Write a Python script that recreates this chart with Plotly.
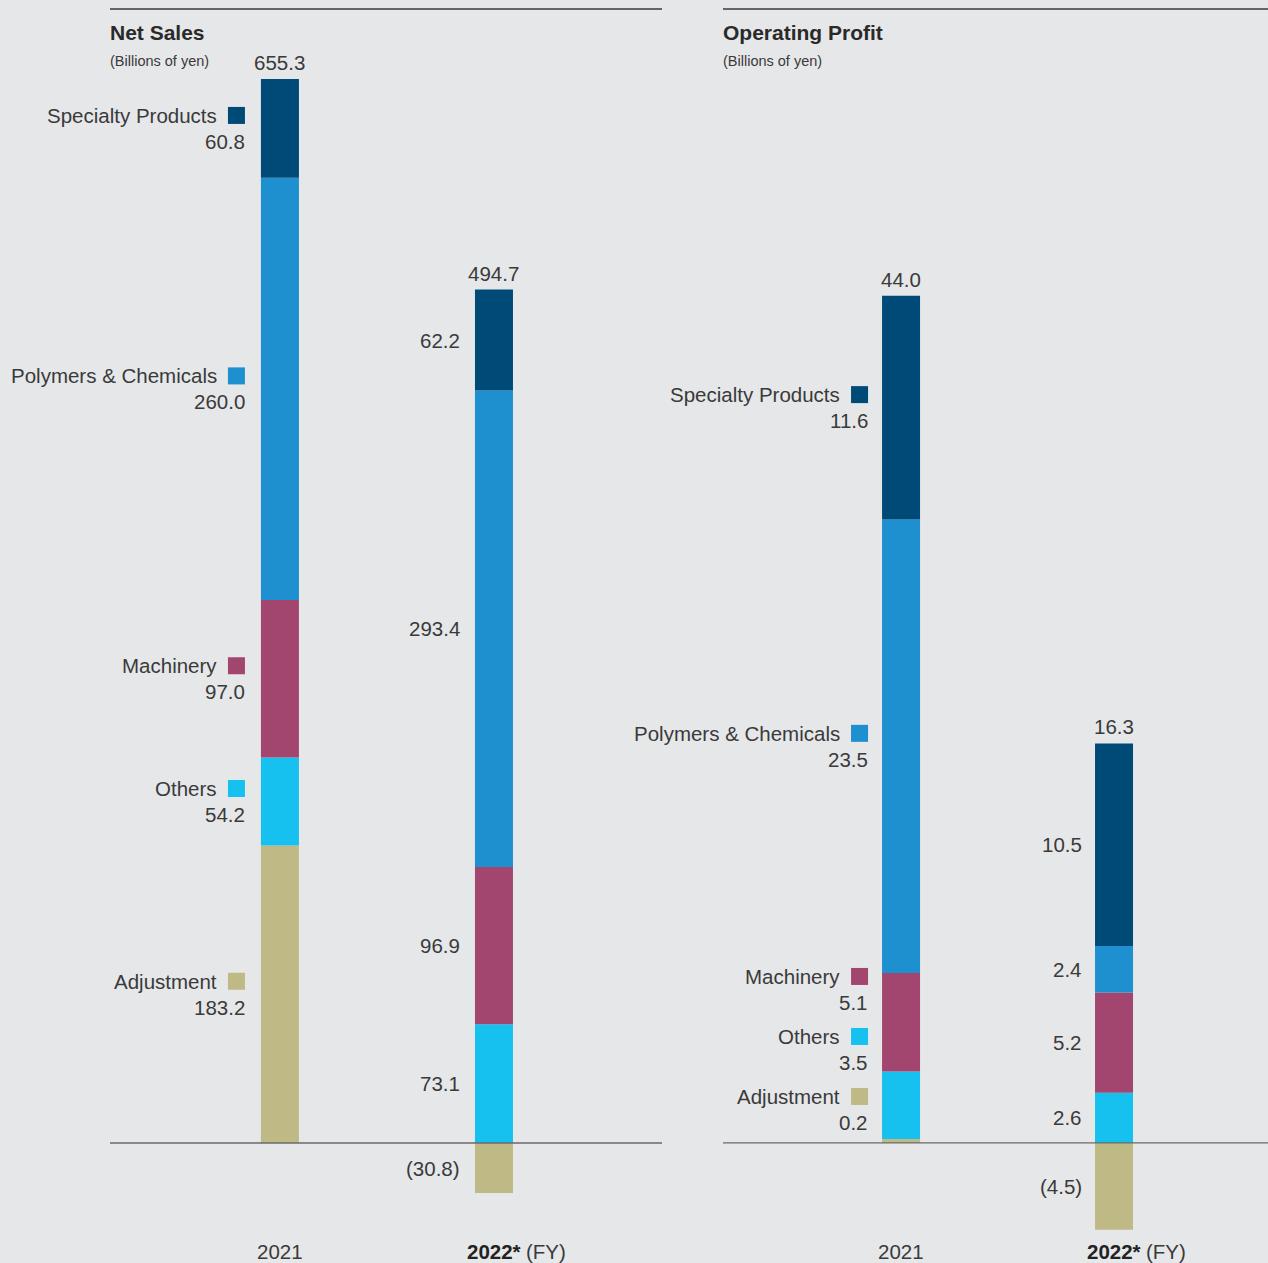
import plotly.graph_objects as go

# ---------------- data ----------------
YEARS = ["2021", "2022*"]
SEGMENTS = ["Adjustment", "Others", "Machinery", "Polymers & Chemicals", "Specialty Products"]
COLORS = ["#bfba85", "#16c1f0", "#a24670", "#1e8fcf", "#004a78"]

NS_ADJUSTMENT = [183.2, -30.8]
NS_OTHERS = [54.2, 73.1]
NS_MACHINERY = [97.0, 96.9]
NS_POLYMERS = [260.0, 293.4]
NS_SPECIALTY = [60.8, 62.2]
NS_TOTAL = [655.3, 494.7]

OP_ADJUSTMENT = [0.2, -4.5]
OP_OTHERS = [3.5, 2.6]
OP_MACHINERY = [5.1, 5.2]
OP_POLYMERS = [23.5, 2.4]
OP_SPECIALTY = [11.6, 10.5]
OP_TOTAL = [44.0, 16.3]

# ---------------- layout constants ----------------
W, H = 1268, 1263
BG = "#e6e7e9"
TXT = "#3a3a3a"
FONT = "Liberation Sans, Arial, sans-serif"
BAR_PX = 38
MIN_H = 33.5   # min label pair height above baseline (px)
GAP = 60       # min spacing between label pairs (px)
YEAR_LABEL_Y = 1251

panels = [
    dict(title="Net Sales", series=[NS_ADJUSTMENT, NS_OTHERS, NS_MACHINERY, NS_POLYMERS, NS_SPECIALTY],
         totals=NS_TOTAL, xa="x", ya="y", xdom=(110, 662), xrange=(-0.794, 1.785), yrange=(-73.9, 703.9),
         name_gap=42, sq=(33, 16), val_gap=15, val2_gap=14),
    dict(title="Operating Profit", series=[OP_ADJUSTMENT, OP_OTHERS, OP_MACHINERY, OP_POLYMERS, OP_SPECIALTY],
         totals=OP_TOTAL, xa="x2", ya="y2", xdom=(723, 1268), xrange=(-0.836, 1.723), yrange=(-6.22, 59.22),
         name_gap=40, sq=(31, 14), val_gap=13, val2_gap=12),
]


def fmt(v):
    return f"({abs(v):.1f})" if v < 0 else f"{v:.1f}"


fig = go.Figure()
annotations = []
shapes = []
xs = list(range(len(YEARS)))

for p in panels:
    px_per_x = (p["xdom"][1] - p["xdom"][0]) / (p["xrange"][1] - p["xrange"][0])
    ppu = H / (p["yrange"][1] - p["yrange"][0])
    bw = BAR_PX / px_per_x
    half = BAR_PX / 2
    for seg, col, vals in zip(SEGMENTS, COLORS, p["series"]):
        fig.add_trace(go.Bar(x=xs, y=vals, width=bw, marker=dict(color=col, line=dict(width=0)),
                             xaxis=p["xa"], yaxis=p["ya"], name=seg, hoverinfo="skip"))

    for i in xs:
        pos, neg = 0.0, 0.0
        centers = []
        for vals in p["series"]:
            v = vals[i]
            if v >= 0:
                centers.append(pos + v / 2)
                pos += v
            else:
                centers.append(neg + v / 2)
                neg += v
        # total label
        annotations.append(dict(x=i, y=pos, xref=p["xa"], yref=p["ya"], text=fmt(p["totals"][i]),
                                showarrow=False, xanchor="center", yanchor="bottom", yshift=3,
                                font=dict(size=20.5, color=TXT, family=FONT)))
        if i == 0:
            # name/value pairs with collision avoidance (pixel heights above baseline)
            prev = None
            for seg, col, vals, c in zip(SEGMENTS, COLORS, p["series"], centers):
                h = max(c * ppu, MIN_H)
                if prev is not None:
                    h = max(h, prev + GAP)
                prev = h
                yv = h / ppu
                annotations.append(dict(x=i, y=yv, xref=p["xa"], yref=p["ya"], text=seg, showarrow=False,
                                        xanchor="right", yanchor="middle", xshift=-(half + p["name_gap"]),
                                        yshift=13, font=dict(size=20.5, color=TXT, family=FONT)))
                annotations.append(dict(x=i, y=yv, xref=p["xa"], yref=p["ya"], text=fmt(vals[i]),
                                        showarrow=False, xanchor="right", yanchor="middle",
                                        xshift=-(half + p["val_gap"]) + 1, yshift=-13,
                                        font=dict(size=20.5, color=TXT, family=FONT)))
                shapes.append(dict(type="rect", xref=p["xa"], yref=p["ya"], xsizemode="pixel",
                                   ysizemode="pixel", xanchor=i, yanchor=yv,
                                   x0=-(half + p["sq"][0]), x1=-(half + p["sq"][1]),
                                   y0=13 - 8.5, y1=13 + 8.5, fillcolor=col, line=dict(width=0)))
        else:
            for vals, c in zip(p["series"], centers):
                annotations.append(dict(x=i, y=c, xref=p["xa"], yref=p["ya"], text=fmt(vals[i]),
                                        showarrow=False, xanchor="right", yanchor="middle",
                                        xshift=-(half + p["val2_gap"]) + 1,
                                        font=dict(size=20.5, color=TXT, family=FONT)))

    # year labels
    yl = 1 - YEAR_LABEL_Y / H
    annotations.append(dict(x=0, y=yl, xref=p["xa"], yref="paper", text=YEARS[0], showarrow=False,
                            xanchor="center", yanchor="middle", font=dict(size=20.5, color=TXT, family=FONT)))
    annotations.append(dict(x=1, y=yl, xref=p["xa"], yref="paper", text=f"<b>{YEARS[1]}</b>",
                            showarrow=False, xanchor="center", yanchor="middle",
                            font=dict(size=20.5, color="#222", family=FONT)))
    annotations.append(dict(x=1, y=yl, xref=p["xa"], yref="paper", text="(FY)", showarrow=False,
                            xanchor="left", yanchor="middle", xshift=30,
                            font=dict(size=20.5, color=TXT, family=FONT)))
    # titles
    annotations.append(dict(x=p["xdom"][0] / W, y=1 - 32 / H, xref="paper", yref="paper",
                            text=f"<b>{p['title']}</b>", showarrow=False, xanchor="left", yanchor="middle",
                            xshift=-2, font=dict(size=21, color="#2a2a2a", family=FONT)))
    annotations.append(dict(x=p["xdom"][0] / W, y=1 - 61 / H, xref="paper", yref="paper",
                            text="(Billions of yen)", showarrow=False, xanchor="left", yanchor="middle",
                            xshift=-2, font=dict(size=14.5, color=TXT, family=FONT)))
    # top rule
    shapes.append(dict(type="line", xref="paper", yref="paper", x0=p["xdom"][0] / W, x1=p["xdom"][1] / W,
                       y0=1 - 9 / H, y1=1 - 9 / H, line=dict(color="#3a3a3a", width=1.5)))
    # baseline
    shapes.append(dict(type="line", xref=f"{p['xa']} domain", yref=p["ya"], x0=0, x1=1, y0=0, y1=0,
                       layer="above", line=dict(color="#6a6a6a", width=1.3)))

axis_off = dict(showgrid=False, zeroline=False, showticklabels=False, ticks="", showline=False, fixedrange=True)
fig.update_layout(
    width=W, height=H, margin=dict(l=0, r=0, t=0, b=0),
    paper_bgcolor=BG, plot_bgcolor=BG, barmode="relative", showlegend=False,
    xaxis=dict(domain=[panels[0]["xdom"][0] / W, panels[0]["xdom"][1] / W], range=list(panels[0]["xrange"]),
               anchor="y", **axis_off),
    yaxis=dict(domain=[0, 1], range=list(panels[0]["yrange"]), anchor="x", **axis_off),
    xaxis2=dict(domain=[panels[1]["xdom"][0] / W, panels[1]["xdom"][1] / W], range=list(panels[1]["xrange"]),
                anchor="y2", **axis_off),
    yaxis2=dict(domain=[0, 1], range=list(panels[1]["yrange"]), anchor="x2", **axis_off),
    annotations=annotations, shapes=shapes,
    font=dict(family=FONT, color=TXT),
)

fig.write_html(
    "out.html",
    config={"displayModeBar": False},
    post_script="document.body.style.margin='0';document.body.style.overflow='hidden';"
                "document.body.style.background='" + BG + "';",
)
